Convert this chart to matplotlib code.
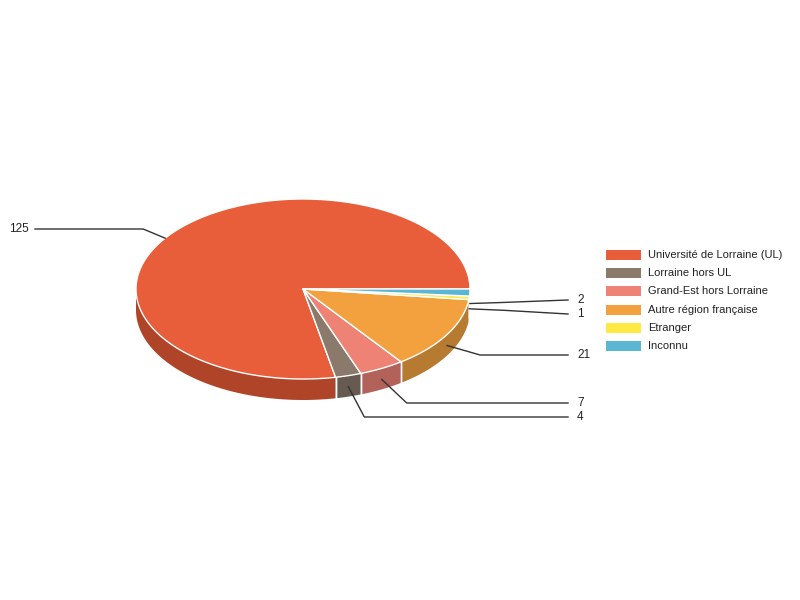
import numpy as np
import matplotlib
matplotlib.use("Agg")
import matplotlib.pyplot as plt
from matplotlib.patches import Polygon

categories = ["Université de Lorraine (UL)", "Lorraine hors UL", "Grand-Est hors Lorraine",
              "Autre région française", "Etranger", "Inconnu"]
values = [125, 4, 7, 21, 1, 2]
top_colors = ["#E95E3A", "#8B796B", "#EE8275", "#F3A13F", "#FEEA43", "#5BB6D4"]
side_colors = ["#B04428", "#675A50", "#B3625A", "#B67A30", "#BFB032", "#448AA0"]

plt.rcParams['font.family'] = ['Liberation Sans', 'DejaVu Sans']
fig = plt.figure(figsize=(8, 6), dpi=100)
ax = fig.add_axes([0, 0, 1, 1])
ax.set_xlim(0, 800)
ax.set_ylim(600, 0)
ax.axis('off')

cx, cy, rx, ry, depth = 303, 289, 167, 90, 21
total = sum(values)
angles = np.cumsum([0] + [v / total * 360 for v in values])

def pt(a, dz=0.0):
    r = np.radians(a)
    return (cx + rx * np.cos(r), cy - ry * np.sin(r) + dz)

# side walls (front half: angles 180..360)
for i in range(len(values)):
    a0, a1 = angles[i], angles[i + 1]
    s0, s1 = max(a0, 180), min(a1, 360)
    if s1 <= s0:
        continue
    th = np.linspace(s0, s1, 100)
    topa = [pt(t) for t in th]
    bota = [pt(t, depth) for t in th[::-1]]
    ax.add_patch(Polygon(topa + bota, closed=True, facecolor=side_colors[i],
                         edgecolor='none', zorder=2))
    for a in (a0, a1):
        if 180 < a < 360:
            p = pt(a)
            ax.plot([p[0], p[0]], [p[1], p[1] + depth], color='white', lw=1, zorder=3)

# top faces
for i in range(len(values)):
    a0, a1 = angles[i], angles[i + 1]
    th = np.linspace(a0, a1, max(10, int((a1 - a0) * 2)))
    verts = [(cx, cy)] + [pt(t) for t in th]
    ax.add_patch(Polygon(verts, closed=True, facecolor=top_colors[i],
                         edgecolor='white', lw=1, joinstyle='round', zorder=4))

# labels with leader lines
label_y = [229, 417, 403, 355, 314, 300]
line_dz = [0, 11, 11, 11, 11, 11]
anchor_shift = [5, 0, 0, 0, 0, 0]
elbow_dx = [-22, 16, 25, 33, 36, 33]
for i, v in enumerate(values):
    mid = (angles[i] + angles[i + 1]) / 2 + anchor_shift[i]
    ax_, ay_ = pt(mid, line_dz[i])
    ly = label_y[i]
    ex = ax_ + elbow_dx[i]
    if np.cos(np.radians(mid)) < 0:
        ax.plot([ax_, ex, 35], [ay_, ly, ly], color='#333333', lw=1, zorder=5)
        ax.text(29, ly, str(v), ha='right', va='center', fontsize=8.5, color='#222222')
    else:
        if abs(ly - ay_) < 8:
            ys = [ay_, ay_ + (ly - ay_) * 0.3, ly]
        else:
            ys = [ay_, ly, ly]
        ax.plot([ax_, ex, 568], ys, color='#333333', lw=1, zorder=5)
        ax.text(577, ly, str(v), ha='left', va='center', fontsize=8.5, color='#222222')

# legend
leg_y = [255, 273, 291, 310, 328, 346]
for i, c in enumerate(categories):
    ax.add_patch(Polygon([(606, leg_y[i] - 5), (641, leg_y[i] - 5), (641, leg_y[i] + 5), (606, leg_y[i] + 5)],
                         closed=True, facecolor=top_colors[i], edgecolor='none'))
    ax.text(648, leg_y[i], c, ha='left', va='center', fontsize=8, color='#222222')

fig.savefig("out.png", dpi=100)
